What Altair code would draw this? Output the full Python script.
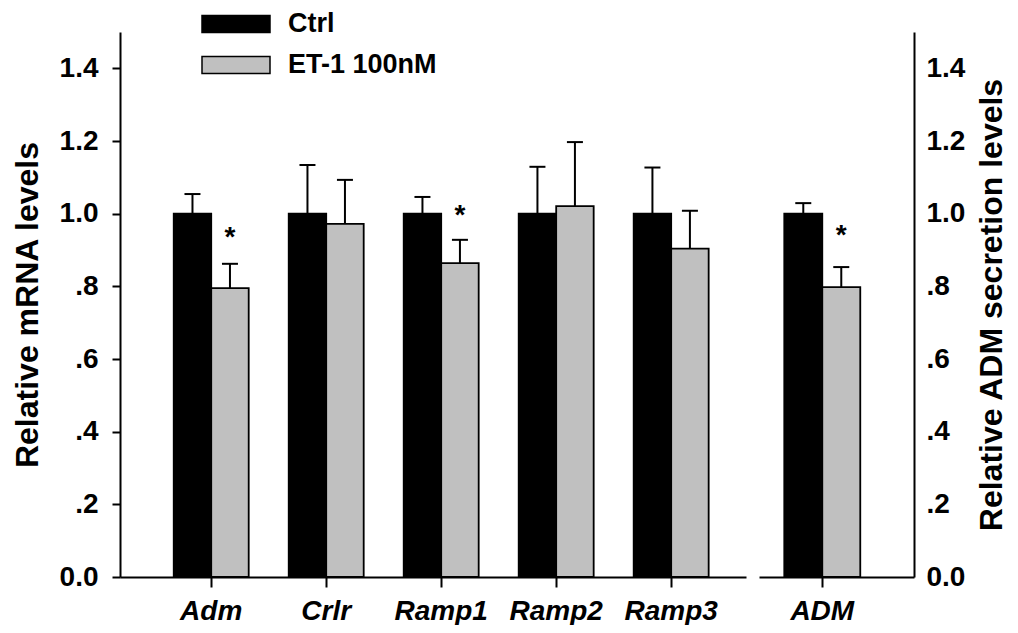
import altair as alt
import pandas as pd

# ---------------- data ----------------
genes = ["Adm", "Crlr", "Ramp1", "Ramp2", "Ramp3"]
groups = ["Ctrl", "ET-1 100nM"]
ctrl_mean = [1.0, 1.0, 1.0, 1.0, 1.0]
ctrl_top = [1.054, 1.134, 1.046, 1.129, 1.127]
et_mean = [0.795, 0.972, 0.864, 1.021, 0.904]
et_top = [0.862, 1.093, 0.928, 1.197, 1.008]
star_genes = ["Adm", "Ramp1"]
star_y = [0.941, 1.002]

sec_labels = ["ADM"]
sec_ctrl_mean = [1.0]
sec_ctrl_top = [1.029]
sec_et_mean = [0.798]
sec_et_top = [0.853]
sec_star_y = [0.947]

y_ticks = [0.0, 0.2, 0.4, 0.6, 0.8, 1.0, 1.2, 1.4]
colors = ["#000000", "#c0c0c0"]

FONT = "Liberation Sans"


def build(labels, cm, ct, em, et):
    rows = []
    for i, g in enumerate(labels):
        rows.append({"gene": g, "group": groups[0], "mean": cm[i], "top": ct[i]})
        rows.append({"gene": g, "group": groups[1], "mean": em[i], "top": et[i]})
    return pd.DataFrame(rows)


df_left = build(genes, ctrl_mean, ctrl_top, et_mean, et_top)
df_right = build(sec_labels, sec_ctrl_mean, sec_ctrl_top, sec_et_mean, sec_et_top)
stars_left = pd.DataFrame({"gene": star_genes, "group": groups[1], "y": star_y})
stars_right = pd.DataFrame({"gene": sec_labels, "group": groups[1], "y": sec_star_y})

label_expr = ("datum.value == 0 ? '0.0' : (datum.value < 1 ? "
              "replace(format(datum.value, '.1f'), '0.', '.') : format(datum.value, '.1f'))")

y_scale = alt.Scale(domain=[0, 1.5], nice=False, zero=True)
color_scale = alt.Scale(domain=groups, range=colors)
xoff_scale = alt.Scale(domain=groups, paddingInner=0, paddingOuter=0)


def x_axis():
    return alt.Axis(title=None, labelFont=FONT, labelFontSize=28, labelFontWeight="bold",
                    labelFontStyle="italic", labelAngle=0, labelColor="black",
                    labelPadding=10, domainColor="black", domainWidth=2,
                    tickColor="black", tickWidth=2, tickSize=10)


def y_axis(title, orient):
    if orient == "left":
        return alt.Axis(title=title, orient="left", values=y_ticks, labelExpr=label_expr,
                        grid=False, labelFont=FONT, labelFontSize=28, labelFontWeight="bold",
                        labelColor="black", labelPadding=14, tickColor="black", tickWidth=2,
                        tickSize=8, domainColor="black", domainWidth=2,
                        titleFont=FONT, titleFontSize=32, titleFontWeight="bold",
                        titleColor="black", titlePadding=15)
    return alt.Axis(title=title, orient="right", values=y_ticks, labelExpr=label_expr,
                    grid=False, labelFont=FONT, labelFontSize=28, labelFontWeight="bold",
                    labelColor="black", labelPadding=12, ticks=False,
                    domainColor="black", domainWidth=2,
                    titleFont=FONT, titleFontSize=32, titleFontWeight="bold",
                    titleColor="black", titlePadding=12, titleAngle=270,
                    titleBaseline="top")


def panel(df, stars, sort, xscale, title, orient, legend):
    x = alt.X("gene:N", sort=sort, scale=xscale, axis=x_axis())
    xo = alt.XOffset("group:N", sort=groups, scale=xoff_scale)
    yax = y_axis(title, orient)
    bars = alt.Chart(df).mark_bar(stroke="black", strokeWidth=1.8).encode(
        x=x, xOffset=xo,
        y=alt.Y("mean:Q", scale=y_scale, axis=yax),
        color=alt.Color("group:N", scale=color_scale, legend=legend),
    )
    rules = alt.Chart(df).mark_rule(color="black", strokeWidth=2).encode(
        x=x, xOffset=xo,
        y=alt.Y("mean:Q", scale=y_scale, axis=yax), y2="top:Q",
    )
    caps = alt.Chart(df).mark_tick(color="black", thickness=2, size=16, opacity=1).encode(
        x=x, xOffset=xo,
        y=alt.Y("top:Q", scale=y_scale, axis=yax),
    )
    st = alt.Chart(stars).mark_text(text="*", font=FONT, fontSize=28, fontWeight="bold",
                                    color="black", baseline="alphabetic", dy=11).encode(
        x=x, xOffset=xo,
        y=alt.Y("y:Q", scale=y_scale, axis=yax),
    )
    return alt.layer(bars, rules, caps, st)


legend = alt.Legend(orient="none", legendX=81, legendY=-20, title=None, padding=0,
                    symbolType="M-1,-0.25L1,-0.25L1,0.25L-1,0.25Z", symbolSize=4624,
                    symbolStrokeColor="black", symbolStrokeWidth=1.5, symbolOpacity=1,
                    labelFont=FONT, labelFontSize=27, labelFontWeight="bold",
                    labelColor="black", labelOffset=17, clipHeight=24, rowPadding=14)

left = panel(df_left, stars_left, genes,
             alt.Scale(paddingInner=0.348, paddingOuter=0.396, align=0.59),
             "Relative mRNA levels", "left", legend).properties(width=626, height=545)

right = panel(df_right, stars_right, sec_labels,
              alt.Scale(paddingInner=0.348, paddingOuter=0.339, align=0.32),
              "Relative ADM secretion levels", "right", None).properties(width=155, height=545)

chart = alt.hconcat(left, right, spacing=13).resolve_scale(
    x="independent", y="independent", xOffset="independent"
).resolve_legend(color="independent").properties(
    padding={"left": 3, "top": 4, "right": 0, "bottom": 0}
).configure_view(stroke=None)

chart.save("out.html", embed_options={"renderer": "svg", "actions": False})
